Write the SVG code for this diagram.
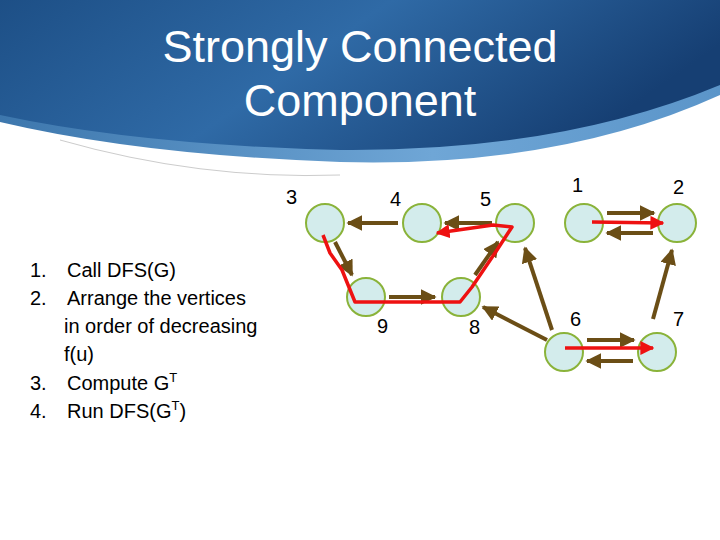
<svg xmlns="http://www.w3.org/2000/svg" width="720" height="540" viewBox="0 0 720 540">
<defs>
<linearGradient id="hdr" x1="0" y1="0" x2="1" y2="0.3">
<stop offset="0" stop-color="#1d4f86"/><stop offset="0.5" stop-color="#2f6aa6"/><stop offset="1" stop-color="#163f73"/>
</linearGradient>
<linearGradient id="band" x1="0" y1="0" x2="1" y2="0">
<stop offset="0" stop-color="#3d77ad"/><stop offset="0.6" stop-color="#6fa6d6"/><stop offset="1" stop-color="#5b95c9"/>
</linearGradient>
<marker id="ab" viewBox="0 0 10 10" refX="9" refY="5" markerWidth="4" markerHeight="4" orient="auto"><path d="M0,0L10,5L0,10z" fill="#6b4e16"/></marker>
<marker id="ar" viewBox="0 0 10 10" refX="9" refY="5" markerWidth="4" markerHeight="4" orient="auto"><path d="M0,0L10,5L0,10z" fill="#ee1111"/></marker>
</defs>
<style>
.n{fill:#d3ecec;stroke:#8ab33a;stroke-width:2}
.l{font-family:"Liberation Sans",Arial,sans-serif;font-size:20px;fill:#000}
.b{stroke:#6b4e16;stroke-width:4;fill:none;marker-end:url(#ab)}
.r{stroke:#ee1111;stroke-width:3.5;fill:none;stroke-linejoin:round;marker-end:url(#ar)}
.t{font-family:"Liberation Sans",Arial,sans-serif;font-size:45px;fill:#fff;text-anchor:middle}
</style>
<rect width="720" height="540" fill="#fff"/>
<path d="M0,0H720V95Q560,168 340,162Q140,155 0,122Z" fill="url(#band)"/>
<path d="M0,0H720V85Q560,152 340,150Q140,145 0,115Z" fill="url(#hdr)"/>
<path d="M60,140Q200,180 340,175" stroke="#ccc" fill="none" stroke-width="1"/>
<text class="t" x="360" y="62">Strongly Connected</text>
<text class="t" x="360" y="116">Component</text>
<g class="l">
<text x="30" y="277">1.</text><text x="67" y="277">Call DFS(G)</text>
<text x="30" y="305">2.</text><text x="67" y="305">Arrange the vertices</text>
<text x="64" y="333">in order of decreasing</text>
<text x="64" y="361">f(u)</text>
<text x="30" y="390">3.</text><text x="67" y="390">Compute G<tspan font-size="13" dy="-8">T</tspan></text>
<text x="30" y="418">4.</text><text x="67" y="418">Run DFS(G<tspan font-size="13" dy="-8">T</tspan><tspan dy="8">)</tspan></text>
</g>
<g id="n3"><circle class="n" cx="325" cy="223" r="19"/><text class="l" x="286" y="204">3</text></g>
<g id="n4"><circle class="n" cx="422" cy="223" r="19"/><text class="l" x="390" y="206">4</text></g>
<g id="n5"><circle class="n" cx="515" cy="223" r="19"/><text class="l" x="480" y="206">5</text></g>
<g id="n1"><circle class="n" cx="584" cy="223" r="19"/><text class="l" x="572" y="192">1</text></g>
<g id="n2"><circle class="n" cx="677" cy="223" r="19"/><text class="l" x="673" y="194">2</text></g>
<g id="n9"><circle class="n" cx="366" cy="297" r="19"/><text class="l" x="377" y="333">9</text></g>
<g id="n8"><circle class="n" cx="461" cy="297" r="19"/><text class="l" x="469" y="334">8</text></g>
<g id="n6"><circle class="n" cx="564" cy="352" r="19"/><text class="l" x="570" y="326">6</text></g>
<g id="n7"><circle class="n" cx="657" cy="352" r="19"/><text class="l" x="673" y="326">7</text></g>
<g id="edges">
<path class="b" d="M398,223L348,223"/>
<path class="b" d="M492,223L445,223"/>
<path class="b" d="M335,242L352,275"/>
<path class="b" d="M389,297L435,297"/>
<path class="b" d="M475,275L498,242"/>
<path class="b" d="M552,330L525,248"/>
<path class="b" d="M547,340L483,307"/>
<path class="b" d="M607,213L654,213"/>
<path class="b" d="M653,233L607,233"/>
<path class="b" d="M587,340L634,340"/>
<path class="b" d="M633,361L587,361"/>
<path class="b" d="M653,319L672,250"/>
<path class="r" d="M323,235L330,253L342,270L355,302L460,302L472,287L497,250L512,227L493,225L437,233"/>
<path class="r" d="M592,222L663,223"/>
<path class="r" d="M565,348L653,348"/>
</g>
</svg>
